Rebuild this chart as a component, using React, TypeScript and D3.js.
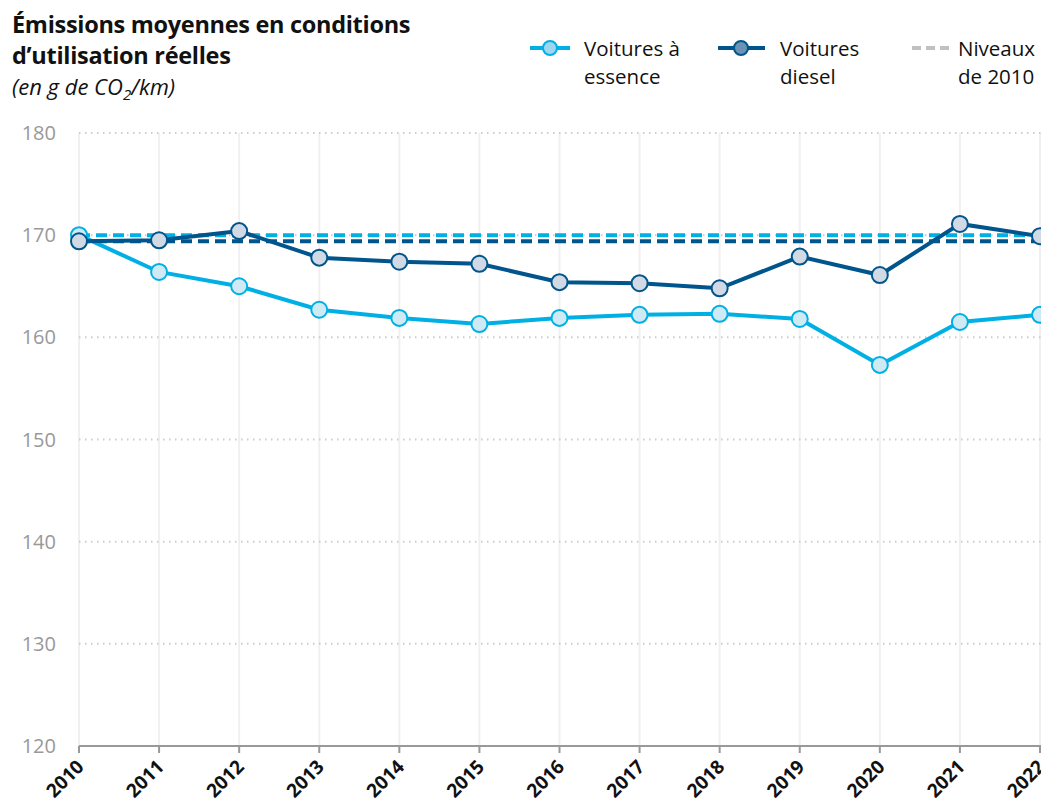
import React from "react";
import * as d3 from "d3";

const years = [2010, 2011, 2012, 2013, 2014, 2015, 2016, 2017, 2018, 2019, 2020, 2021, 2022];
const petrol = [170.0, 166.4, 165.0, 162.7, 161.9, 161.3, 161.9, 162.2, 162.3, 161.8, 157.3, 161.5, 162.2];
const diesel = [169.4, 169.5, 170.4, 167.8, 167.4, 167.2, 165.4, 165.3, 164.8, 167.9, 166.1, 171.1, 169.9];
const yTicks = [120, 130, 140, 150, 160, 170, 180];
const titleLines = ["Émissions moyennes en conditions", "d’utilisation réelles"];
const legendItems = [
  { lines: ["Voitures à", "essence"] },
  { lines: ["Voitures", "diesel"] },
  { lines: ["Niveaux", "de 2010"] },
];

const PETROL = "#00b0e4";
const DIESEL = "#00558c";
const FONT = "'Open Sans', sans-serif";

export default function App() {
  const W = 1041, H = 808;
  const x = d3.scaleLinear().domain([2010, 2022]).range([79, 1040]);
  const y = d3.scaleLinear().domain([120, 180]).range([746, 133]);
  const line = d3.line<number>().x((_, i) => x(years[i])).y((d) => y(d));

  return (
    <svg width={W} height={H} style={{ position: "absolute", left: 0, top: 0, background: "#fff" }} fontFamily={FONT}>
      {/* title */}
      <text x={12} y={33} fontSize={23.5} fontWeight={700} fill="#111" letterSpacing={-0.3}>{titleLines[0]}</text>
      <text x={12} y={64} fontSize={23.5} fontWeight={700} fill="#111" letterSpacing={-0.3}>{titleLines[1]}</text>
      <text x={12} y={95} fontSize={22} fontStyle="italic" fill="#111">
        (en g de CO<tspan dy={5} fontSize={15}>2</tspan><tspan dy={-5}>/km)</tspan>
      </text>

      {/* legend */}
      <g>
        <line x1={530} x2={570} y1={48} y2={48} stroke={PETROL} strokeWidth={4} />
        <circle cx={550} cy={48} r={7} fill="#9dd6ee" stroke={PETROL} strokeWidth={2} />
        <line x1={718} x2={765} y1={48} y2={48} stroke={DIESEL} strokeWidth={4} />
        <circle cx={741} cy={48} r={7} fill="#6b93b5" stroke={DIESEL} strokeWidth={2} />
        <line x1={912} x2={952} y1={48} y2={48} stroke="#c0c0c0" strokeWidth={4} strokeDasharray="9,5" />
        {legendItems.map((it, i) => {
          const lx = [584, 780, 958][i];
          return (
            <text key={i} x={lx} fontSize={20.5} fill="#111">
              <tspan x={lx} y={56}>{it.lines[0]}</tspan>
              <tspan x={lx} y={84}>{it.lines[1]}</tspan>
            </text>
          );
        })}
      </g>

      {/* vertical grid */}
      {years.map((yr) => (
        <line key={"v" + yr} x1={x(yr)} x2={x(yr)} y1={133} y2={746} stroke="#f0f0f0" strokeWidth={2} />
      ))}
      {/* horizontal grid */}
      {yTicks.filter((t) => t > 120).map((t) => (
        <line key={"h" + t} x1={79} x2={W} y1={y(t)} y2={y(t)} stroke="#cccccc" strokeWidth={2} strokeDasharray="1.5,4.5" />
      ))}
      {/* y labels */}
      {yTicks.map((t) => (
        <text key={"yl" + t} x={56} y={y(t)} dy="0.35em" textAnchor="end" fontSize={20} fill="#999">{t}</text>
      ))}
      {/* x axis */}
      <line x1={79} x2={W} y1={746} y2={746} stroke="#999" strokeWidth={2} />
      {years.map((yr) => (
        <line key={"t" + yr} x1={x(yr)} x2={x(yr)} y1={746} y2={753} stroke="#999" strokeWidth={2} />
      ))}
      {years.map((yr) => (
        <text key={"xl" + yr} transform={`translate(${x(yr) + 6},${768}) rotate(-45)`} textAnchor="end" fontSize={19} fontWeight={700} fill="#111">{yr}</text>
      ))}

      {/* 2010 reference lines */}
      <line x1={x(2010)} x2={W} y1={y(petrol[0])} y2={y(petrol[0])} stroke={PETROL} strokeWidth={4} strokeDasharray="11,6" />
      <line x1={x(2010)} x2={W} y1={y(diesel[0])} y2={y(diesel[0])} stroke={DIESEL} strokeWidth={4} strokeDasharray="11,6" />

      {/* series */}
      <path d={line(petrol) || ""} fill="none" stroke={PETROL} strokeWidth={4} />
      {petrol.map((v, i) => (
        <circle key={"pc" + i} cx={x(years[i])} cy={y(v)} r={8} fill="#cfe9f5" stroke={PETROL} strokeWidth={2} />
      ))}
      <path d={line(diesel) || ""} fill="none" stroke={DIESEL} strokeWidth={4} />
      {diesel.map((v, i) => (
        <circle key={"dc" + i} cx={x(years[i])} cy={y(v)} r={8} fill="#d0d9e4" stroke={DIESEL} strokeWidth={2} />
      ))}
    </svg>
  );
}
